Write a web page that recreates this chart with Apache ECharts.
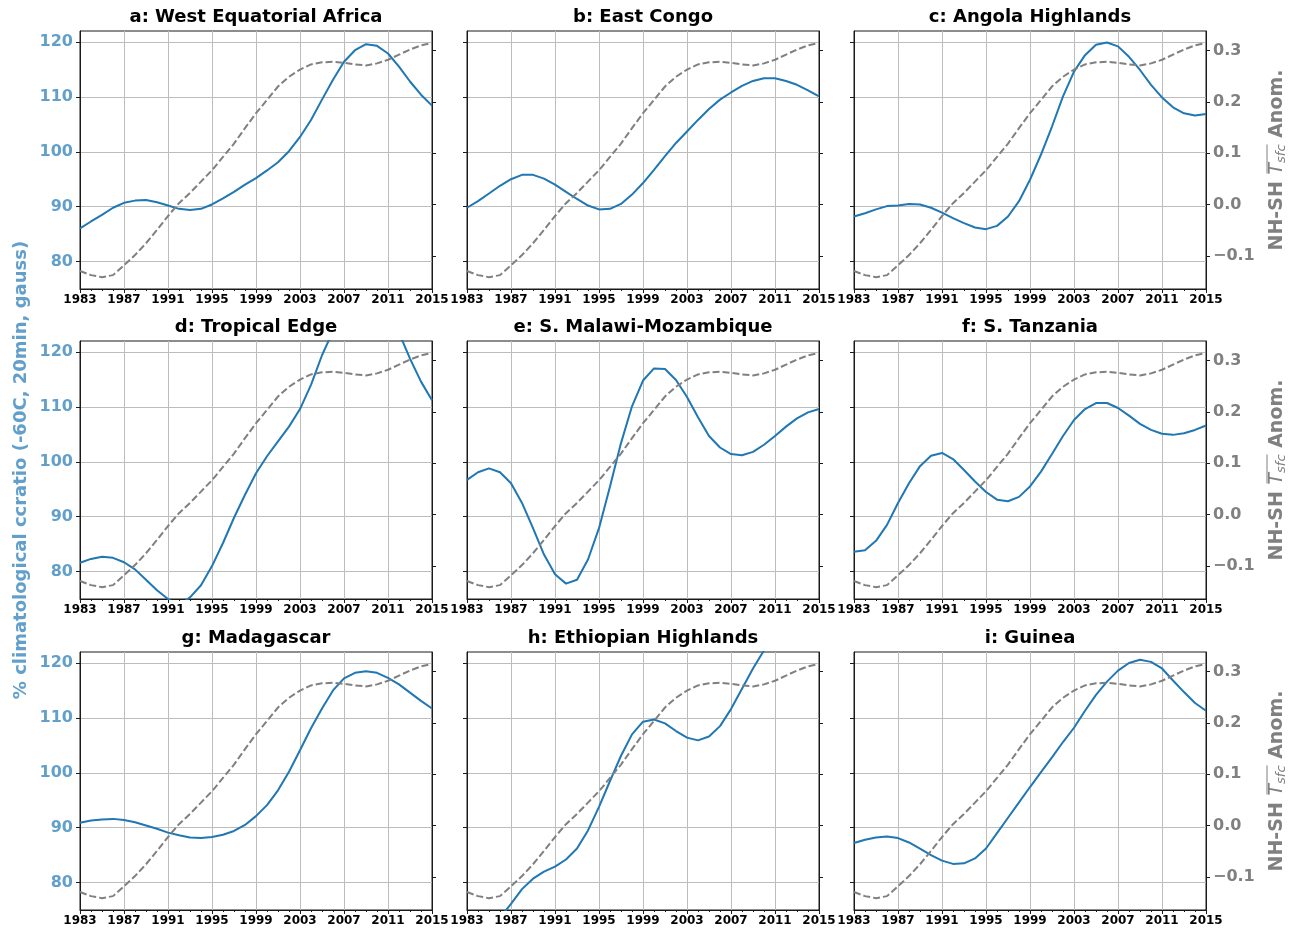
<!DOCTYPE html>
<html>
<head>
<meta charset="utf-8">
<script src="https://cdn.jsdelivr.net/npm/echarts@6/dist/echarts.min.js"></script>
<style>
  html, body { margin: 0; padding: 0; background: #ffffff; }
  #chart { width: 1300px; height: 934px; }
</style>
</head>
<body>
<div id="chart"></div>
<script>
// Years of the smoothed annual series
const years = [1983, 1984, 1985, 1986, 1987, 1988, 1989, 1990, 1991, 1992, 1993,
  1994, 1995, 1996, 1997, 1998, 1999, 2000, 2001, 2002, 2003, 2004, 2005, 2006,
  2007, 2008, 2009, 2010, 2011, 2012, 2013, 2014, 2015];

// NH-SH surface temperature anomaly (right axis, same in every panel)
const tsfcAnom = [-0.129, -0.137, -0.141, -0.137, -0.118, -0.098, -0.075, -0.049, -0.022,
  0.003, 0.023, 0.045, 0.067, 0.093, 0.119, 0.149, 0.178, 0.204, 0.230, 0.249, 0.263,
  0.273, 0.277, 0.278, 0.276, 0.273, 0.271, 0.275, 0.282, 0.292, 0.302, 0.310, 0.315];

// % climatological ccratio per region (left axis)
const westEquatorialAfrica = [86.05, 87.3, 88.5, 89.8, 90.7, 91.1, 91.2, 90.8, 90.2, 89.6,
  89.4, 89.6, 90.4, 91.5, 92.7, 94.0, 95.2, 96.6, 98.1, 100.1, 102.7, 105.8, 109.5, 113.1,
  116.4, 118.5, 119.6, 119.3, 117.9, 115.5, 112.8, 110.4, 108.4];
const eastCongo = [89.8, 91.0, 92.4, 93.8, 95.0, 95.8, 95.8, 95.1, 94.0, 92.7, 91.4, 90.2,
  89.5, 89.6, 90.5, 92.2, 94.3, 96.7, 99.2, 101.6, 103.7, 105.8, 107.8, 109.5, 110.8, 112.0,
  112.9, 113.4, 113.4, 112.9, 112.2, 111.2, 110.1];
const angolaHighlands = [88.2, 88.8, 89.5, 90.1, 90.2, 90.5, 90.4, 89.8, 88.9, 87.9, 87.0,
  86.2, 85.9, 86.5, 88.2, 91.0, 94.9, 99.5, 104.6, 110.1, 114.6, 117.6, 119.5, 119.9, 119.2,
  117.3, 114.9, 112.2, 109.9, 108.1, 107.0, 106.6, 106.9];
const tropicalEdge = [81.6, 82.3, 82.7, 82.5, 81.7, 80.4, 78.5, 76.6, 75.0, 73.8, 75.3,
  77.5, 81.0, 85.2, 89.8, 94.0, 97.9, 101.0, 103.7, 106.4, 109.6, 114.0, 119.4, 123.8, 126.2,
  127.3, 127.6, 127.0, 125.8, 123.5, 118.8, 114.6, 111.2];
const sMalawiMozambique = [96.7, 98.1, 98.8, 98.1, 96.1, 92.5, 87.9, 83.1, 79.5, 77.8, 78.5,
  82.2, 87.9, 95.5, 103.4, 110.1, 114.8, 117.0, 116.9, 114.9, 111.8, 108.1, 104.7, 102.6,
  101.4, 101.2, 101.8, 103.1, 104.7, 106.4, 107.9, 109.0, 109.6];
const sTanzania = [83.6, 83.9, 85.6, 88.5, 92.5, 96.1, 99.2, 101.1, 101.6, 100.5, 98.5, 96.4,
  94.5, 93.1, 92.8, 93.6, 95.5, 98.2, 101.4, 104.7, 107.6, 109.6, 110.7, 110.7, 109.8, 108.4,
  106.9, 105.8, 105.1, 104.9, 105.2, 105.8, 106.6];
const madagascar = [90.9, 91.3, 91.5, 91.6, 91.4, 91.0, 90.4, 89.8, 89.1, 88.6, 88.2, 88.1,
  88.3, 88.7, 89.4, 90.5, 92.1, 94.1, 96.8, 100.2, 104.1, 108.1, 111.7, 115.0, 117.2, 118.2,
  118.5, 118.2, 117.3, 116.1, 114.6, 113.1, 111.7];
const ethiopianHighlands = [70.5, 71.0, 72.0, 73.6, 76.1, 78.8, 80.7, 82.0, 82.9, 84.2, 86.2,
  89.5, 93.8, 98.5, 103.1, 107.0, 109.3, 109.7, 109.0, 107.6, 106.4, 105.9, 106.6, 108.5,
  111.6, 115.3, 119.0, 122.3, 125.2, 127.6, 129.3, 130.5, 131.2];
const guinea = [87.2, 87.8, 88.2, 88.4, 88.1, 87.3, 86.2, 85.0, 84.0, 83.4, 83.5, 84.4, 86.2,
  89.0, 91.8, 94.6, 97.4, 100.1, 102.8, 105.6, 108.2, 111.3, 114.2, 116.6, 118.6, 120.0, 120.6,
  120.2, 119.0, 116.8, 114.7, 112.7, 111.3];

const panelTitles = ['a: West Equatorial Africa', 'b: East Congo', 'c: Angola Highlands',
  'd: Tropical Edge', 'e: S. Malawi-Mozambique', 'f: S. Tanzania',
  'g: Madagascar', 'h: Ethiopian Highlands', 'i: Guinea'];
const regionSeries = [westEquatorialAfrica, eastCongo, angolaHighlands, tropicalEdge,
  sMalawiMozambique, sTanzania, madagascar, ethiopianHighlands, guinea];

const ccratioTicks = [80, 90, 100, 110, 120];
const anomTicks = [-0.1, 0.0, 0.1, 0.2, 0.3];
const leftAxisName = '% climatological ccratio (-60C, 20min, gauss)';

// ---- layout and styling ----
const FONT = 'DejaVu Sans';
const BLUE = '#1f77b4';
const BLUE_LABEL = '#62a0cb';
const GREY = '#808080';
const SPINE = '#1a1a1a';
const GRIDLINE = '#bdbdbd';
const colLeft = [80, 467, 854];
const rowTop = [31, 341, 652];
const plotW = 352;
const plotH = 258;
const titleY = [17, 327, 638];
const baseYear = years[0];

const grids = [], xAxes = [], yAxes = [], series = [], graphics = [];

for (let p = 0; p < 9; p++) {
  const row = Math.floor(p / 3), col = p % 3;
  grids.push({
    left: colLeft[col], top: rowTop[row], width: plotW, height: plotH,
    show: true, borderColor: SPINE, borderWidth: 1, backgroundColor: 'transparent',
    containLabel: false, outerBoundsMode: 'none'
  });
  xAxes.push({
    type: 'value', gridIndex: p, min: 0, max: years[years.length - 1] - baseYear, interval: 4,
    axisLine: { show: true, onZero: false, lineStyle: { color: SPINE, width: 1 } },
    axisTick: { show: true, length: 4, lineStyle: { color: SPINE, width: 1 } },
    minorTick: { show: true, splitNumber: 4, length: 2, lineStyle: { color: SPINE, width: 1 } },
    axisLabel: {
      show: true, margin: 5, color: '#000', fontFamily: FONT, fontWeight: 'bold', fontSize: 12,
      showMinLabel: true, showMaxLabel: true, hideOverlap: false,
      formatter: v => String(v + baseYear)
    },
    splitLine: { show: true, lineStyle: { color: GRIDLINE, width: 1 } },
    minorSplitLine: { show: false }
  });
  // left axis: ccratio
  yAxes.push({
    type: 'value', gridIndex: p, position: 'left', min: 75, max: 122,
    axisLine: { show: true, onZero: false, lineStyle: { color: SPINE, width: 1 } },
    axisTick: { show: true, length: 4, customValues: ccratioTicks, lineStyle: { color: SPINE, width: 1 } },
    axisLabel: {
      show: col === 0, customValues: ccratioTicks, margin: 7, color: BLUE_LABEL,
      fontFamily: FONT, fontWeight: 'bold', fontSize: 16
    },
    splitLine: { show: true, lineStyle: { color: GRIDLINE, width: 1 } },
    name: p === 3 ? leftAxisName : '',
    nameLocation: 'middle', nameGap: 50,
    nameTextStyle: { color: BLUE_LABEL, fontFamily: FONT, fontWeight: 'bold', fontSize: 18 }
  });
  // right axis: NH-SH Tsfc anomaly
  yAxes.push({
    type: 'value', gridIndex: p, position: 'right', min: -0.164, max: 0.338,
    axisLine: { show: true, onZero: false, lineStyle: { color: SPINE, width: 1 } },
    axisTick: { show: true, length: 4, customValues: anomTicks, lineStyle: { color: SPINE, width: 1 } },
    axisLabel: {
      show: col === 2, customValues: anomTicks, margin: 7, color: GREY,
      fontFamily: FONT, fontWeight: 'bold', fontSize: 16,
      formatter: v => (v < -1e-9 ? '\u2212' : '') + Math.abs(v).toFixed(1)
    },
    splitLine: { show: false }
  });

  series.push({
    type: 'line', xAxisIndex: p, yAxisIndex: 2 * p,
    data: years.map((y, i) => [y - baseYear, regionSeries[p][i]]),
    showSymbol: false, symbol: 'none', clip: true, z: 3,
    lineStyle: { color: BLUE, width: 2 }, silent: true, animation: false
  });
  series.push({
    type: 'line', xAxisIndex: p, yAxisIndex: 2 * p + 1,
    data: years.map((y, i) => [y - baseYear, tsfcAnom[i]]),
    showSymbol: false, symbol: 'none', clip: true, z: 4,
    lineStyle: { color: GREY, width: 2, type: [7, 3] }, silent: true, animation: false
  });

  graphics.push({
    type: 'text', x: colLeft[col] + plotW / 2, y: titleY[row],
    style: {
      text: panelTitles[p], fill: '#000', textAlign: 'center', textVerticalAlign: 'middle',
      font: 'bold 18px "' + FONT + '"'
    }
  });
}

// Right-hand axis title: NH-SH  overline(T_sfc)  Anom.
const measure = document.createElement('canvas').getContext('2d');
function textWidth(str, font) { measure.font = font; return measure.measureText(str).width; }
const fMain = 'bold 19px "' + FONT + '"';
const fT = 'oblique 19px "' + FONT + '"';
const fSub = 'oblique 13px "' + FONT + '"';
const partA = 'NH-SH ', partT = 'T', partS = 'sfc', partB = ' Anom.';
const wA = textWidth(partA, fMain), wT = textWidth(partT, fT), wS = textWidth(partS, fSub),
  wB = textWidth(partB, fMain);
const wAll = wA + wT + wS + wB;
for (let row = 0; row < 3; row++) {
  const x0 = -wAll / 2;
  graphics.push({
    type: 'group', x: 1277, y: rowTop[row] + plotH / 2, rotation: Math.PI / 2,
    children: [
      { type: 'text', x: x0, y: 0, style: { text: partA, font: fMain, fill: GREY, textAlign: 'left', textVerticalAlign: 'middle' } },
      { type: 'text', x: x0 + wA, y: 0, style: { text: partT, font: fT, fill: GREY, textAlign: 'left', textVerticalAlign: 'middle' } },
      { type: 'text', x: x0 + wA + wT, y: 5, style: { text: partS, font: fSub, fill: GREY, textAlign: 'left', textVerticalAlign: 'middle' } },
      { type: 'text', x: x0 + wA + wT + wS, y: 0, style: { text: partB, font: fMain, fill: GREY, textAlign: 'left', textVerticalAlign: 'middle' } },
      { type: 'line', shape: { x1: x0 + wA + 1, y1: -10, x2: x0 + wA + wT + wS, y2: -10 }, style: { stroke: GREY, lineWidth: 1 } }
    ]
  });
}

const chart = echarts.init(document.getElementById('chart'), null, { renderer: 'canvas' });
chart.setOption({
  backgroundColor: '#ffffff',
  animation: false,
  textStyle: { fontFamily: FONT },
  grid: grids,
  xAxis: xAxes,
  yAxis: yAxes,
  series: series,
  graphic: graphics
});
</script>
</body>
</html>
